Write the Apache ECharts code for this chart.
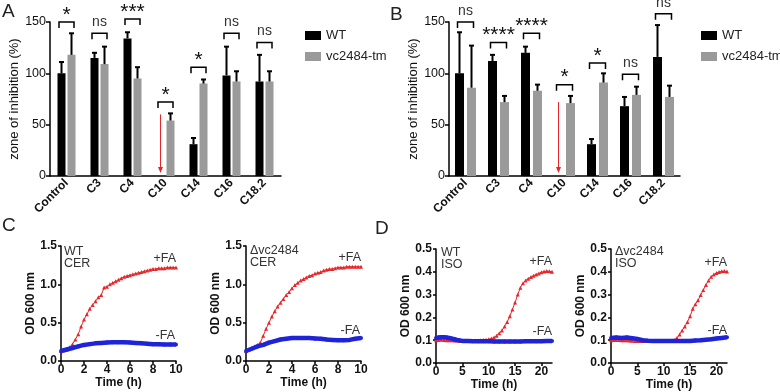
<!DOCTYPE html>
<html><head><meta charset="utf-8">
<script src="https://cdn.jsdelivr.net/npm/echarts@6/dist/echarts.min.js"></script>
<style>html,body{margin:0;padding:0;background:#fff}#c{width:780px;height:392px}</style>
</head><body><div id="c"></div>
<script>
// ---------- DATA ----------
const categories = ['Control','C3','C4','C10','C14','C16','C18.2'];
// Panel A
const aWT   = [100, 115, 134, 0, 31, 98, 92];
const aWTsd = [11, 5, 6, 0, 6, 28, 26];
const aKO   = [118, 109, 95, 54, 90, 92, 92];
const aKOsd = [21, 17, 11, 7, 4, 10, 10];
const aSigY = [150, 139, 153, 72, 106, 139, 130];
const aSig  = ['*','ns','***','*','*','ns','ns'];
const aArrow = [3, 60, 3];
// Panel B
const bWT   = [100, 112, 120, 0, 31, 68, 116];
const bWTsd = [40, 6, 6, 0, 5, 9, 31];
const bKO   = [86, 72, 83, 71, 91, 79, 77];
const bKOsd = [41, 6, 6, 7, 9, 8, 11];
const bSigY = [150, 130, 139, 89, 110, 99, 158];
const bSig  = ['ns','****','****','*','*','ns','ns'];
const bArrow = [3, 72, 3];
// tick values
const barYTicks = [0, 50, 100, 150];
const cXTicks = [0, 2, 4, 6, 8, 10];
const cYTicks = [0, 0.5, 1.0, 1.5];
const dXTicks = [0, 5, 10, 15, 20];
const dYTicks = [0, 0.1, 0.2, 0.3, 0.4, 0.5];
// Panel C (CER) growth, [time h, OD600]
const c1Plus = [[0,0.13],[0.25,0.14],[0.5,0.15],[0.75,0.18],[1,0.22],[1.25,0.28],[1.5,0.35],[1.75,0.45],[2,0.54],[2.25,0.61],[2.5,0.68],[2.75,0.73],[3,0.78],[3.25,0.83],[3.5,0.86],[3.75,0.96],[4,0.97],[4.25,1.0],[4.5,1.02],[4.75,1.04],[5,1.06],[5.25,1.08],[5.5,1.1],[5.75,1.11],[6,1.12],[6.25,1.13],[6.5,1.14],[6.75,1.15],[7,1.16],[7.25,1.17],[7.5,1.18],[7.75,1.19],[8,1.2],[8.25,1.2],[8.5,1.21],[8.75,1.21],[9,1.21],[9.25,1.22],[9.5,1.22],[9.75,1.22],[10,1.22]];
const c1Minus = [[0,0.13],[0.5,0.15],[1,0.17],[1.5,0.19],[2,0.21],[2.5,0.22],[3,0.23],[3.5,0.235],[4,0.24],[4.5,0.245],[5,0.245],[5.5,0.245],[6,0.24],[6.5,0.235],[7,0.23],[7.5,0.225],[8,0.22],[8.5,0.22],[9,0.215],[9.5,0.215],[10,0.215]];
const c2Plus = [[0,0.13],[0.25,0.15],[0.5,0.17],[0.75,0.19],[1,0.21],[1.25,0.24],[1.5,0.33],[1.75,0.42],[2,0.5],[2.25,0.58],[2.5,0.65],[2.75,0.71],[3,0.76],[3.25,0.81],[3.5,0.86],[3.75,0.9],[4,0.95],[4.25,0.99],[4.5,1.02],[4.75,1.05],[5,1.07],[5.25,1.09],[5.5,1.11],[5.75,1.12],[6,1.14],[6.25,1.15],[6.5,1.16],[6.75,1.18],[7,1.19],[7.25,1.2],[7.5,1.2],[7.75,1.21],[8,1.22],[8.25,1.22],[8.5,1.22],[8.75,1.23],[9,1.23],[9.25,1.23],[9.5,1.23],[9.75,1.23],[10,1.23]];
const c2Minus = [[0,0.13],[0.5,0.16],[1,0.19],[1.5,0.21],[2,0.24],[2.5,0.26],[3,0.28],[3.5,0.29],[4,0.3],[4.5,0.3],[5,0.3],[5.5,0.3],[6,0.295],[6.5,0.29],[7,0.28],[7.5,0.275],[8,0.27],[8.5,0.27],[9,0.275],[9.5,0.29],[10,0.3]];
// Panel D (ISO) growth
const d1Plus = [[0,0.1],[0.5,0.101],[1,0.102],[1.5,0.101],[2,0.1],[2.5,0.1],[3,0.1],[3.5,0.099],[4,0.099],[4.5,0.098],[5,0.098],[5.5,0.098],[6,0.098],[6.5,0.098],[7,0.098],[7.5,0.099],[8,0.099],[8.5,0.1],[9,0.101],[9.5,0.102],[10,0.104],[10.5,0.107],[11,0.112],[11.5,0.12],[12,0.13],[12.5,0.143],[13,0.16],[13.5,0.18],[14,0.205],[14.5,0.235],[15,0.265],[15.5,0.3],[16,0.33],[16.5,0.35],[17,0.362],[17.5,0.37],[18,0.377],[18.5,0.383],[19,0.388],[19.5,0.393],[20,0.398],[20.5,0.401],[21,0.403],[21.5,0.402],[22,0.4]];
const d1Minus = [[0,0.11],[0.5,0.112],[1,0.113],[1.5,0.113],[2,0.112],[2.5,0.11],[3,0.107],[3.5,0.104],[4,0.101],[4.5,0.099],[5,0.097],[6,0.096],[7,0.095],[8,0.095],[9,0.095],[10,0.095],[11,0.094],[12,0.094],[13,0.094],[14,0.094],[15,0.094],[16,0.094],[17,0.095],[18,0.095],[19,0.095],[20,0.095],[21,0.096],[22,0.096]];
const d2Plus = [[0,0.1],[0.5,0.101],[1,0.101],[1.5,0.101],[2,0.1],[2.5,0.1],[3,0.1],[3.5,0.099],[4,0.098],[4.5,0.097],[5,0.096],[5.5,0.096],[6,0.096],[6.5,0.096],[7,0.096],[7.5,0.096],[8,0.096],[8.5,0.096],[9,0.096],[9.5,0.096],[10,0.096],[10.5,0.097],[11,0.097],[11.5,0.098],[12,0.101],[12.5,0.11],[13,0.125],[13.5,0.143],[14,0.16],[14.5,0.18],[15,0.205],[15.5,0.238],[16,0.258],[16.5,0.275],[17,0.298],[17.5,0.32],[18,0.342],[18.5,0.362],[19,0.378],[19.5,0.388],[20,0.395],[20.5,0.399],[21,0.402],[21.5,0.403],[22,0.401]];
const d2Minus = [[0,0.11],[1,0.112],[2,0.11],[3,0.112],[4,0.109],[5,0.105],[6,0.1],[7,0.098],[8,0.097],[9,0.096],[10,0.096],[11,0.096],[12,0.096],[13,0.096],[14,0.097],[15,0.097],[16,0.099],[17,0.1],[18,0.102],[19,0.104],[20,0.107],[21,0.11],[22,0.113]];

// ---------- STYLE ----------
const FONT = '"Liberation Sans", Arial, sans-serif';
const RED = '#e8262a', BLUE = '#1f24d8', GRAY = '#9a9a9a';
const AXC = '#000';

function barX(gi){ return {type:'category', gridIndex:gi, data:categories,
  axisLine:{lineStyle:{color:AXC,width:1.5}},
  axisTick:{alignWithLabel:true,length:4,lineStyle:{color:AXC,width:1.5}},
  axisLabel:{rotate:45, interval:0, fontSize:12, fontWeight:'bold', color:'#111', fontFamily:FONT, margin:5}}; }
function barY(gi){ return {type:'value', gridIndex:gi, min:barYTicks[0], max:barYTicks[barYTicks.length-1], interval:50,
  name:'zone of inhibition (%)', nameLocation:'middle', nameGap:29,
  nameTextStyle:{fontSize:13,color:'#111',fontFamily:FONT},
  axisLine:{show:true,lineStyle:{color:AXC,width:1.5}}, axisTick:{show:true,length:4,lineStyle:{color:AXC,width:1.5}},
  splitLine:{show:false}, axisLabel:{fontSize:12.5,color:'#111',fontFamily:FONT,margin:4}}; }
function lineX(gi, ticks, max){ return {type:'value', gridIndex:gi, min:0, max:max,
  name:'Time (h)', nameLocation:'middle', nameGap:15,
  nameTextStyle:{fontSize:12,fontWeight:'bold',color:'#111',fontFamily:FONT},
  axisLine:{lineStyle:{color:AXC,width:1.5}},
  axisTick:{show:true,length:3,customValues:ticks,lineStyle:{color:AXC,width:1.5}},
  axisLabel:{customValues:ticks,fontSize:12,fontWeight:'bold',color:'#111',fontFamily:FONT,margin:3},
  splitLine:{show:false}}; }
function lineY(gi, ticks, interval){ return {type:'value', gridIndex:gi, min:0, max:ticks[ticks.length-1], interval:interval,
  name:'OD 600 nm', nameLocation:'middle', nameGap:21,
  nameTextStyle:{fontSize:12,fontWeight:'bold',color:'#111',fontFamily:FONT},
  axisLine:{show:true,lineStyle:{color:AXC,width:1.5}},
  axisTick:{show:true,length:3,lineStyle:{color:AXC,width:1.5}},
  axisLabel:{fontSize:12,fontWeight:'bold',color:'#111',fontFamily:FONT,margin:4,formatter:v=>v.toFixed(1)},
  splitLine:{show:false}}; }

function barSeries(gi, name, data, color, w, gap){
  return {type:'bar', name:name, xAxisIndex:gi, yAxisIndex:gi, data:data, barWidth:w, barGap:gap,
    itemStyle:{color:color}, silent:true, animation:false};
}
function errSeries(gi, means, sds, off){
  return {type:'custom', xAxisIndex:gi, yAxisIndex:gi, z:5, silent:true, animation:false,
    data: means.map((m,i)=>[i, m, m+sds[i]]),
    renderItem(params, api){
      const i = api.value(0), m = api.value(1), t = api.value(2);
      if (!(t > m)) return {type:'group', children:[]};
      const p0 = api.coord([i, m]), p1 = api.coord([i, t]);
      const x = p0[0] + off;
      return {type:'group', children:[
        {type:'line', shape:{x1:x,y1:p0[1],x2:x,y2:p1[1]}, style:{stroke:'#000',lineWidth:2}},
        {type:'line', shape:{x1:x-2.5,y1:p1[1],x2:x+2.5,y2:p1[1]}, style:{stroke:'#000',lineWidth:2}}
      ]};
    }};
}
function sigSeries(gi, ys, labels, half){
  return {type:'custom', xAxisIndex:gi, yAxisIndex:gi, z:6, silent:true, animation:false,
    data: ys.map((y,i)=>[i, y]),
    renderItem(params, api){
      const p = api.coord([api.value(0), api.value(1)]);
      const lab = labels[params.dataIndex];
      const star = lab.indexOf('*') >= 0;
      const x0 = p[0]-half, x1 = p[0]+half, y = p[1];
      return {type:'group', children:[
        {type:'polyline', shape:{points:[[x0,y+6],[x0,y],[x1,y],[x1,y+6]]}, style:{stroke:'#000',lineWidth:1.5,fill:null}},
        {type:'text', style:{text:lab, x:p[0], y: star ? y-7 : y-11, align:'center', verticalAlign:'middle',
          fontSize: star ? 21 : 14, fontFamily:FONT, fill: star ? '#111' : '#333'}}
      ]};
    }};
}
function arrowSeries(gi, arr, off){
  return {type:'custom', xAxisIndex:gi, yAxisIndex:gi, z:6, silent:true, animation:false,
    data:[arr],
    renderItem(params, api){
      const p0 = api.coord([api.value(0), api.value(1)]);
      const p1 = api.coord([api.value(0), api.value(2)]);
      const x = p0[0] + off;
      return {type:'group', children:[
        {type:'line', shape:{x1:x,y1:p0[1],x2:x,y2:p1[1]-4}, style:{stroke:RED,lineWidth:1}},
        {type:'polygon', shape:{points:[[x-2.5,p1[1]-6],[x+2.5,p1[1]-6],[x,p1[1]]]}, style:{fill:RED}}
      ]};
    }};
}
function plusSeries(gi, data){
  return {type:'line', name:'+FA', xAxisIndex:gi, yAxisIndex:gi, data:data, z:3,
    symbol:'triangle', symbolSize:4, showSymbol:true, lineStyle:{color:RED,width:1}, itemStyle:{color:RED},
    silent:true, animation:false};
}
function minusSeries(gi, data){
  return {type:'line', name:'-FA', xAxisIndex:gi, yAxisIndex:gi, data:data, z:4,
    symbol:'circle', symbolSize:4, showSymbol:true, lineStyle:{color:BLUE,width:4.5}, itemStyle:{color:BLUE},
    silent:true, animation:false};
}

const legendCommon = {data:['WT','vc2484-tm'], orient:'vertical', icon:'rect', itemWidth:16, itemHeight:9, itemGap:8,
  selectedMode:false, textStyle:{fontSize:13,color:'#222',fontFamily:FONT}};

function txt(text, x, y, align, size){
  return {type:'text', x:x, y:y, style:{text:text, font: (size||12.5)+'px '+FONT, fill:'#333', align:align||'left', verticalAlign:'middle'}};
}

const option = {
  animation:false,
  backgroundColor:'#fff',
  textStyle:{fontFamily:FONT},
  grid:[
    {left:50, top:22, width:231, height:154, containLabel:false},
    {left:449, top:22, width:231, height:154, containLabel:false},
    {left:61, top:246, width:115, height:115, containLabel:false},
    {left:246, top:246, width:115, height:115, containLabel:false},
    {left:436, top:249, width:116, height:114, containLabel:false},
    {left:611, top:249, width:116, height:114, containLabel:false}
  ],
  xAxis:[barX(0), barX(1), lineX(2,cXTicks,10), lineX(3,cXTicks,10), lineX(4,dXTicks,22), lineX(5,dXTicks,22)],
  yAxis:[barY(0), barY(1), lineY(2,cYTicks,0.5), lineY(3,cYTicks,0.5), lineY(4,dYTicks,0.1), lineY(5,dYTicks,0.1)],
  legend:[Object.assign({left:300, top:24}, legendCommon), Object.assign({left:696, top:24}, legendCommon)],
  series:[
    barSeries(0,'WT',aWT,'#000',8,'25%'), barSeries(0,'vc2484-tm',aKO,GRAY,8,'25%'),
    errSeries(0,aWT,aWTsd,-5), errSeries(0,aKO,aKOsd,5), sigSeries(0,aSigY,aSig,7.5), arrowSeries(0,aArrow,-5),
    barSeries(1,'WT',bWT,'#000',9,'33%'), barSeries(1,'vc2484-tm',bKO,GRAY,9,'33%'),
    errSeries(1,bWT,bWTsd,-6), errSeries(1,bKO,bKOsd,6), sigSeries(1,bSigY,bSig,8), arrowSeries(1,bArrow,-6),
    plusSeries(2,c1Plus), minusSeries(2,c1Minus),
    plusSeries(3,c2Plus), minusSeries(3,c2Minus),
    plusSeries(4,d1Plus), minusSeries(4,d1Minus),
    plusSeries(5,d2Plus), minusSeries(5,d2Minus)
  ],
  graphic:[
    {type:'text', left:2, top:2, style:{text:'A', font:'19px '+FONT, fill:'#222'}},
    {type:'text', left:390, top:5, style:{text:'B', font:'19px '+FONT, fill:'#222'}},
    {type:'text', left:2, top:216, style:{text:'C', font:'19px '+FONT, fill:'#222'}},
    {type:'text', left:375, top:219, style:{text:'D', font:'19px '+FONT, fill:'#222'}},
    txt('WT', 64, 252), txt('CER', 64, 264),
    txt('+FA', 176, 259, 'right'), txt('-FA', 175, 336, 'right'),
    txt('\u0394vc2484', 250, 251), txt('CER', 250, 263),
    txt('+FA', 361, 258, 'right'), txt('-FA', 360, 331, 'right'),
    txt('WT', 441, 253), txt('ISO', 441, 265),
    txt('+FA', 552, 262, 'right'), txt('-FA', 552, 332, 'right'),
    txt('\u0394vc2484', 615, 252), txt('ISO', 615, 264),
    txt('+FA', 727, 263, 'right'), txt('-FA', 727, 331, 'right')
  ]
};
const chart = echarts.init(document.getElementById('c'), null, {renderer:'canvas'});
chart.setOption(option);
</script></body></html>
